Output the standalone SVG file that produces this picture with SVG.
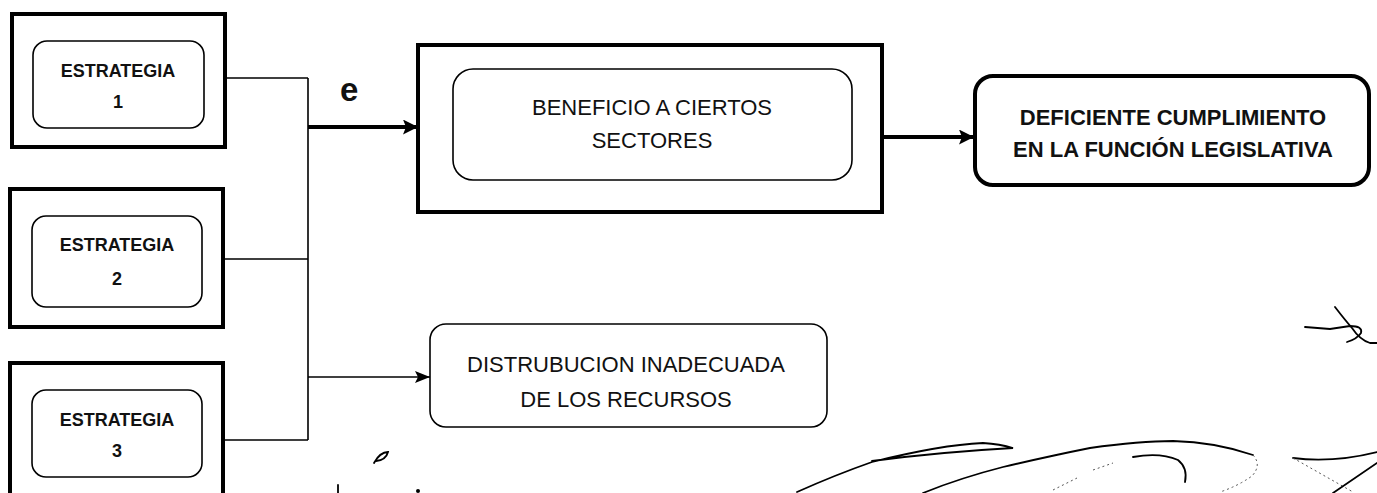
<svg xmlns="http://www.w3.org/2000/svg" width="1377" height="493" viewBox="0 0 1377 493">
<style>
.outer{fill:#fff;stroke:#000;stroke-width:4}
.inner{fill:#fff;stroke:#000;stroke-width:1.6}
.strat{font-family:"Liberation Sans",Arial,sans-serif;font-weight:bold;font-size:18px;fill:#111;text-anchor:middle}
.reg{font-family:"Liberation Sans",Arial,sans-serif;font-size:22px;fill:#111;text-anchor:middle}
.bold{font-family:"Liberation Sans",Arial,sans-serif;font-weight:bold;font-size:22px;fill:#111;text-anchor:middle}
.thin{fill:none;stroke:#000;stroke-width:1.6}
.thick{fill:none;stroke:#000;stroke-width:4}
.scr{fill:none;stroke:#000;stroke-width:1.8;stroke-linecap:round}
.scrf{fill:none;stroke:#555;stroke-width:1;stroke-dasharray:2 3}
</style>
<defs>
<marker id="ahThick" markerUnits="userSpaceOnUse" markerWidth="15" markerHeight="15" refX="15" refY="7.5" orient="auto">
<path d="M0,0 L15,7.5 L0,15 L3,7.5 z" fill="#000"/>
</marker>
<marker id="ahThin" markerUnits="userSpaceOnUse" markerWidth="15" markerHeight="12" refX="15" refY="6" orient="auto">
<path d="M0,0 L15,6 L0,12 L3,6 z" fill="#000"/>
</marker>
</defs>
<rect width="1377" height="493" fill="#fff"/>

<g id="estrategia1">
<rect class="outer" x="12" y="14" width="213" height="133"/>
<rect class="inner" x="33" y="41" width="171" height="87" rx="14"/>
<text class="strat" x="118" y="77">ESTRATEGIA</text>
<text class="strat" x="118" y="108">1</text>
</g>
<g id="estrategia2">
<rect class="outer" x="10" y="189" width="213" height="138"/>
<rect class="inner" x="32" y="216" width="170" height="91" rx="14"/>
<text class="strat" x="117" y="251">ESTRATEGIA</text>
<text class="strat" x="117" y="285">2</text>
</g>
<g id="estrategia3">
<rect class="outer" x="10" y="363" width="213" height="150"/>
<rect class="inner" x="32" y="390" width="170" height="87" rx="14"/>
<text class="strat" x="117" y="426">ESTRATEGIA</text>
<text class="strat" x="117" y="457">3</text>
</g>
<g id="beneficio">
<rect class="outer" x="418" y="45" width="464" height="167"/>
<rect class="inner" x="453" y="69" width="399" height="111" rx="20"/>
<text class="reg" x="652" y="115">BENEFICIO A CIERTOS</text>
<text class="reg" x="652" y="148">SECTORES</text>
</g>
<g id="deficiente">
<rect class="outer" x="975" y="76" width="394" height="109" rx="18"/>
<text class="bold" x="1173" y="125">DEFICIENTE CUMPLIMIENTO</text>
<text class="bold" x="1173" y="157">EN LA FUNCIÓN LEGISLATIVA</text>
</g>
<g id="distribucion">
<rect class="inner" x="430" y="324" width="397" height="103" rx="16"/>
<text class="reg" x="626" y="372">DISTRUBUCION INADECUADA</text>
<text class="reg" x="626" y="407">DE LOS RECURSOS</text>
</g>

<g id="connectors">
<path class="thin" d="M225,78 H308 M223,259 H308 M223,440 H308 M308,78 V440"/>
<path class="thick" d="M308,127 H418" marker-end="url(#ahThick)"/>
<path class="thin" d="M308,377 H430" marker-end="url(#ahThin)"/>
<path class="thick" d="M884,137 H974" marker-end="url(#ahThick)"/>
<text x="340" y="101" font-family="Liberation Sans, Arial, sans-serif" font-weight="bold" font-size="33" fill="#111">e</text>
</g>

<g id="marks">
<path class="scr" d="M374,463 Q380,452 388,452 Q386,460 376,461"/>
<path class="scr" d="M338,485 V493"/>
<circle cx="418" cy="491" r="2" fill="#000"/>
<path class="scr" d="M797,492 Q835,475 872,462 Q940,445 983,443 Q1000,444 1013,448 Q940,452 872,461"/>
<path class="scr" d="M923,493 Q960,478 1003,467 Q1050,456 1090,448 Q1140,441 1173,441 Q1215,442 1253,455"/>
<path class="scrf" d="M1253,455 Q1262,465 1252,476 Q1238,486 1220,492"/>
<path class="scr" d="M1133,457 Q1160,452 1178,460 Q1188,468 1185,482"/>
<path class="scrf" d="M1053,490 L1077,478 M1093,470 L1113,463"/>
<path class="scr" d="M1293,458 Q1333,463 1377,452"/>
<path class="scrf" d="M1293,458 L1353,492"/>
<path class="scr" d="M1333,493 L1377,463"/>
<path class="scr" d="M1305,327 L1330,329 L1350,326 Q1363,326 1361,333 Q1357,339 1347,342"/>
<path class="scr" d="M1335,307 Q1345,320 1352,328 Q1360,340 1370,343 L1377,343"/>
</g>
</svg>
